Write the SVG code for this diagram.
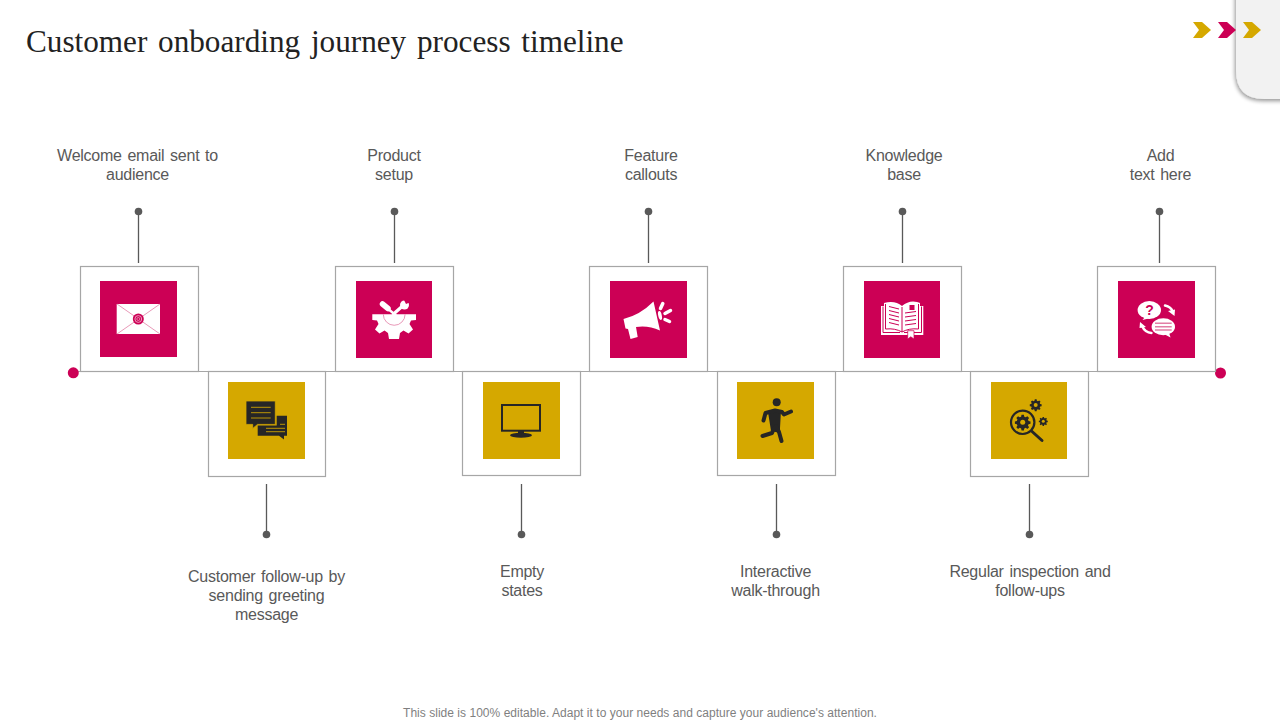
<svg xmlns="http://www.w3.org/2000/svg" width="1280" height="720" viewBox="0 0 1280 720">
<defs>
<filter id="sh" x="-30%" y="-30%" width="160%" height="160%"><feGaussianBlur in="SourceAlpha" stdDeviation="2.200"/><feOffset dx="-1" dy="2"/><feComponentTransfer><feFuncA type="linear" slope="0.42"/></feComponentTransfer><feMerge><feMergeNode/><feMergeNode in="SourceGraphic"/></feMerge></filter>
<path id="gear" d="M-1.600-10h3.200l.5 2.600 1.900.8 2.200-1.500 2.300 2.300-1.500 2.200.8 1.900 2.600.5v3.200l-2.600.5-.8 1.900 1.500 2.200-2.300 2.300-2.200-1.500-1.900.8-.5 2.600h-3.200l-.5-2.600-1.900-.8-2.200 1.500-2.300-2.300 1.500-2.200-.8-1.900-2.600-.5v-3.200l2.600-.5.8-1.900-1.500-2.200 2.300-2.300 2.200 1.500 1.900-.8z" fill="#262626"/>
</defs>
<style>
text{font-family:"Liberation Sans",Arial,sans-serif;font-size:16px;letter-spacing:-.25px;word-spacing:1.500px;fill:#595959;text-anchor:middle}
.title{font-family:"Liberation Serif","Times New Roman",serif;font-size:31.200px;letter-spacing:0;fill:#222;text-anchor:start;word-spacing:3px}
.foot{font-size:12px;fill:#7f7f7f;word-spacing:0;letter-spacing:.03px}
.box{fill:#fff;stroke:#a6a6a6;stroke-width:1.200}
.pink{fill:#cc0055}
.gold{fill:#d5a800}
.stem{stroke:#595959;stroke-width:1.300;fill:none}
.dot{fill:#595959}
.end{fill:#cc0055}
.dk{fill:#262626}
.w{fill:#fff}
.ws{fill:none;stroke:#fff;stroke-linecap:round}
</style>
<rect width="1280" height="720" fill="#fff"/>
<g id="tab"><path d="M1236 -10H1290V99H1264Q1236 99 1236 70Z" fill="#f2f2f2" filter="url(#sh)"/></g>
<g id="chevrons">
<path d="M1193 22h9l9 8-9 8h-9l6-8z" fill="#d5a800"/>
<path d="M1218 22h9l9 8-9 8h-9l6-8z" fill="#cc0055"/>
<path d="M1243 22h9l9 8-9 8h-9l6-8z" fill="#d5a800"/>
</g>
<text class="title" x="26" y="52">Customer onboarding journey process timeline</text>
<g id="connectors">
<path d="M73 371.500H1220" fill="none" stroke="#a6a6a6" stroke-width="1.200"/>
<path class="stem" d="M138.500 212V263M394.500 212V263M648.500 212V263M902.500 212V263M1159.500 212V263M266.500 484V535M521.500 484V535M776.500 484V535M1029.500 484V535"/>
<circle class="dot" cx="138.500" cy="211.500" r="3.800"/><circle class="dot" cx="394.500" cy="211.500" r="3.800"/><circle class="dot" cx="648.500" cy="211.500" r="3.800"/><circle class="dot" cx="902.500" cy="211.500" r="3.800"/><circle class="dot" cx="1159.500" cy="211.500" r="3.800"/>
<circle class="dot" cx="266.500" cy="534.500" r="3.800"/><circle class="dot" cx="521.500" cy="534.500" r="3.800"/><circle class="dot" cx="776.500" cy="534.500" r="3.800"/><circle class="dot" cx="1029.500" cy="534.500" r="3.800"/>
<circle class="end" cx="73.300" cy="372.800" r="5.500"/><circle class="end" cx="1220.500" cy="373" r="5.500"/>
</g>
<g id="node1">
<rect class="box" x="80.500" y="266.500" width="118" height="105"/><rect class="pink" x="100" y="281" width="77" height="76"/>
<rect class="w" x="116.700" y="304" width="43.300" height="30"/>
<path d="M117 304L160 334M160 304L117 334" stroke="#e27fa6" stroke-width=".8"/>
<circle cx="138.300" cy="319" r="5.500" fill="#cc0055"/><circle cx="138.300" cy="319" r="3.400" fill="none" stroke="#f0a8c6" stroke-width=".9"/><circle cx="138.300" cy="319" r="1.500" fill="none" stroke="#f0a8c6" stroke-width=".7"/>
<text x="137.500" y="161">Welcome email sent to</text><text x="137.500" y="180">audience</text>
</g>
<g id="node2">
<rect class="box" x="208.500" y="371.500" width="117" height="105"/><rect class="gold" x="228" y="382" width="77" height="77"/>
<path class="dk" d="M276.700 415.700H287V435.700H284V439.500L279 435.700H257.700V425.500H276.700Z"/>
<path class="dk" d="M246 401H275.300V424.400H257.500L252.700 428.500V424.400H246Z" stroke="#d5a800" stroke-width=".8"/>
<path d="M251 407.300h19.700M251 412.700h19.700M251 418h19.700M266 428.300h19M266 431.700h19M280 424.300h5" stroke="#d5a800" stroke-width="1" fill="none" opacity=".85"/>
<text x="266.500" y="582">Customer follow-up by</text><text x="266.500" y="601">sending greeting</text><text x="266.500" y="620">message</text>
</g>
<g id="node3">
<rect class="box" x="335.500" y="266.500" width="118" height="105"/><rect class="pink" x="356" y="281" width="76" height="77"/>
<path class="ws" stroke-width="5.500" d="M382.500 304L388 308.500"/>
<path class="ws" stroke-width="2.400" d="M387 308L395.500 315"/>
<path class="ws" stroke-width="3.200" d="M393.500 314L402 306.500"/>
<circle class="w" cx="404.500" cy="305" r="4.500"/><path class="pink" d="M403.500 299l2.500 5 3.500-1.500 0-5z"/>
<path class="w" d="M372.300 314.300H416V320L411 320.500L409.500 324L413 329.500L408.500 333.500L403.500 330.500L400 333L399 339H389L388 333L384.500 330.500L379.500 333.500L375 329.500L378.500 324L377 320.500L372.300 320Z"/>
<path d="M383.300 314.300a10.900 11 0 0 0 21.800 0" fill="none" stroke="#e27fa6" stroke-width=".8"/>
<text x="394" y="161">Product</text><text x="394" y="180">setup</text>
</g>
<g id="node4">
<rect class="box" x="462.500" y="371.500" width="118" height="104"/><rect class="gold" x="483" y="382" width="77" height="77"/>
<rect x="502" y="405" width="38" height="25.700" fill="none" stroke="#262626" stroke-width="2"/>
<path class="dk" d="M518 431h6v3h-6z"/><ellipse class="dk" cx="521" cy="435.200" rx="11" ry="2.500"/>
<text x="522" y="577">Empty</text><text x="522" y="596">states</text>
</g>
<g id="node5">
<rect class="box" x="589.500" y="266.500" width="118" height="105"/><rect class="pink" x="610" y="281" width="77" height="77"/>
<path class="w" d="M623.500 319Q640 315 653.500 301.500L660 330.500Q648 325 636 327L637.700 337L630.500 339L628 329L625.500 328.500Z"/>
<ellipse class="w" cx="660" cy="315.500" rx="1.800" ry="4.500" transform="rotate(-12 660 315.500)"/>
<path class="ws" stroke-width="3.500" d="M660.500 308.500L662.800 303.500M665 313.500L670.500 310.500M665 319.500L669.500 321.500"/>
<text x="651" y="161">Feature</text><text x="651" y="180">callouts</text>
</g>
<g id="node6">
<rect class="box" x="717.500" y="371.500" width="118" height="104"/><rect class="gold" x="737" y="382" width="77" height="77"/>
<circle class="dk" cx="776.700" cy="402.300" r="4"/>
<path class="dk" d="M768 412L781 410.500L780 428L780 433L771 431Z"/>
<path d="M763.500 420.500L765.500 413L775 410.500L782 412L784 414.500L791 411.500M774 428L772 433L762.500 436M776 426L779 432L781.500 441" fill="none" stroke="#262626" stroke-width="4" stroke-linecap="round" stroke-linejoin="round"/>
<text x="775.500" y="577">Interactive</text><text x="775.500" y="596">walk-through</text>
</g>
<g id="node7">
<rect class="box" x="843.500" y="266.500" width="118" height="105"/><rect class="pink" x="864" y="281" width="76" height="77"/>
<path class="w" d="M881 306H884V303Q895 300 902 306Q909 300 917 302L920 303V306H923.300V335H881Z"/>
<path d="M883 306.500V332.500H900M921.500 306.500V332.500H904M885.500 304V329Q895 328 902 332Q909 328 918.500 329V304M902 307V332M889 306.500L899 309M889 310.500L899 313M889 314.500L899 317M889 318.500L899 321M889 322.500L899 325M905 313L916 311.500M905 317L916 315.500M905 321L916 319.500M905 325L916 323.500" fill="none" stroke="#cc0055" stroke-width="1"/>
<rect x="909.500" y="305" width="5" height="5" fill="#cc0055"/>
<path class="w" stroke="#cc0055" stroke-width=".7" d="M907.700 330.700H914V339L910.800 336.800L907.700 339Z"/>
<text x="904" y="161">Knowledge</text><text x="904" y="180">base</text>
</g>
<g id="node8">
<rect class="box" x="970.500" y="371.500" width="118" height="105"/><rect class="gold" x="991" y="382" width="76" height="77"/>
<circle cx="1022.700" cy="422.300" r="11.700" fill="none" stroke="#262626" stroke-width="2.200"/>
<path d="M1031.500 431L1042 440.500" stroke="#262626" stroke-width="3" stroke-linecap="round"/>
<use href="#gear" transform="translate(1022.700 422.300) scale(.75)"/>
<use href="#gear" transform="translate(1035.700 405) scale(.57)"/>
<use href="#gear" transform="translate(1043.300 421.300) scale(.43)"/>
<circle cx="1022.700" cy="422.300" r="2.500" fill="#d5a800"/><circle cx="1035.700" cy="405" r="2" fill="#d5a800"/><circle cx="1043.300" cy="421.300" r="1.500" fill="#d5a800"/>
<text x="1030" y="577">Regular inspection and</text><text x="1030" y="596">follow-ups</text>
</g>
<g id="node9">
<rect class="box" x="1097.500" y="266.500" width="118" height="105"/><rect class="pink" x="1118" y="281" width="77" height="77"/>
<ellipse class="w" cx="1149.300" cy="310" rx="11.700" ry="9"/><path class="w" d="M1145 317l-2.500 3 8-2z"/>
<text x="1149.500" y="315" style="font-size:14px;font-weight:bold;fill:#cc0055">?</text>
<ellipse class="w" cx="1163.300" cy="326.700" rx="11.700" ry="8.500"/><path class="w" d="M1164 334l6.500 3.500-1.500-5z"/>
<path d="M1155 323.300h16.700M1155 326.700h16.700M1155 330h16.700" stroke="#e27fa6" stroke-width="1.500"/>
<path class="ws" stroke-width="2.500" d="M1165 305.500Q1171 307 1172.500 311M1151.500 333Q1145 332.500 1142 326"/>
<path class="w" d="M1168 311L1175 309.500L1174.500 316ZM1146 327L1139.500 328L1140 322Z"/>
<text x="1160.500" y="161">Add</text><text x="1160.500" y="180">text here</text>
</g>
<text class="foot" x="640" y="717">This slide is 100% editable. Adapt it to your needs and capture your audience's attention.</text>
</svg>
